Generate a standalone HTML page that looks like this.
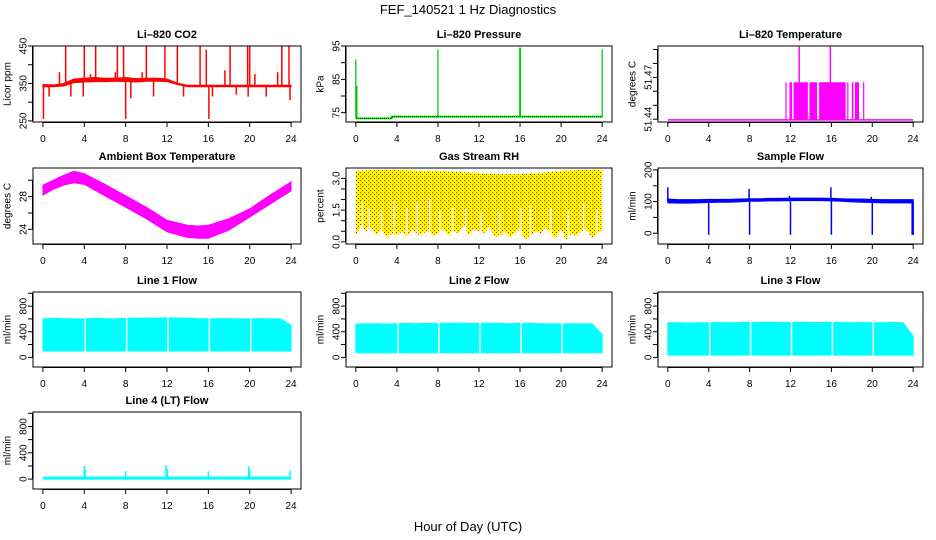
<!DOCTYPE html>
<html><head><meta charset="utf-8"><style>
html,body{margin:0;padding:0;background:#fff;}
svg{display:block;font-family:"Liberation Sans",Arial,sans-serif;}
</style></head><body>
<svg id="chart" width="936" height="540" viewBox="0 0 936 540" xmlns="http://www.w3.org/2000/svg">
<defs>
<pattern id="reddots" width="4" height="4" patternUnits="userSpaceOnUse"><rect x="0" y="0" width="1" height="1" fill="#ff0000"/><rect x="2" y="2" width="1" height="1" fill="#ff0000"/></pattern>
</defs>
<rect width="936" height="540" fill="#fff"/>
<text x="468" y="14" text-anchor="middle" font-size="13">FEF_140521  1 Hz Diagnostics</text>
<text x="468" y="531" text-anchor="middle" font-size="13">Hour of Day (UTC)</text>
</svg>
<script>
// ---- data ----
const xTicks = [0,4,8,12,16,20,24];
const hours = [0,1,2,3,4,5,6,7,8,9,10,11,12,13,14,15,16,17,18,19,20,21,22,23,24];
const co2Lo = [341,341,343,352,354,355,355,356,355,354,356,356,355,347,341,341,341,341,341,341,341,341,341,341,341];
const co2Hi = [347,346,350,362,364,366,364,364,366,363,364,364,362,351,345,345,345,345,345,345,345,345,345,345,345];
const co2SpikeHours = [2.2,4.0,5.1,7.2,7.8,10.0,11.8,13.0,15.2,15.8,18.1,19.8,20.0,23.1,23.8,1.6,4.6,7.0,9.6,17.6,20.5,22.7,0.05,8.0,16.05,0.6,2.7,3.9,8.5,10.7,13.6,16.4,18.7,19.85,21.6,23.9];
const co2SpikeVals = [450,450,450,450,450,450,450,450,450,440,450,450,450,450,450,380,375,380,380,385,375,380,255,255,255,315,315,315,310,315,315,315,320,315,315,305];
const presHours = [0,3.5,3.5,24];
const presVals = [73.3,73.3,73.8,73.8];
const presSpikeHours = [0.0,0.1,8.0,16.0,24.0];
const presSpikeVals = [91,83,94,94.5,94];
const tempBase = 51.4395;
const tempBurstStart = [11.5,11.9,12.3,13.85,14.8,17.55,18.0,18.3,19.1];
const tempBurstEnd = [11.55,12.15,13.7,14.6,17.4,17.65,18.15,18.7,19.15];
const tempBurstVal = 51.4665;
const tempSpikeHours = [12.85,15.9];
const tempSpikeVals = [51.492,51.492];
const ambHours = [0,1,2,3,4,6,8,10,12,14,15,16,18,20,22,24];
const ambHi = [29.4,30.0,30.6,31.1,30.8,29.5,28.1,26.7,25.1,24.5,24.4,24.5,25.3,26.5,28.2,29.8];
const ambLo = [28.2,28.9,29.4,29.7,29.5,28.1,26.7,25.3,23.7,23.0,22.9,22.9,23.9,25.5,27.1,28.7];
const rhHiHours = [0,2,4,6,8,10,12,14,16,18,20,22,24];
const rhHi = [3.35,3.4,3.4,3.35,3.35,3.3,3.25,3.2,3.2,3.25,3.35,3.4,3.4];
const rhLo = [0.3,0.8,0.5,0.7,0.3,0.6,0.2,0.4,0.3,0.5,0.2,0.6,0.3,0.4,0.5,0.3,0.4,0.6,0.3,0.5,0.4,0.8,0.3,0.6,0.5,0.4,0.7,0.3,0.2,0.5,0.2,0.4,0.6,0.1,0.3,0.5,0.4,0.7,0.3,0.2,0.6,0.1,0.4,0.3,0.5,0.6,0.2,0.4,0.5];
const rhGapHours = [0.6,1.3,2.5,3.7,5.0,6.0,7.2,8.2,9.4,10.7,12.2,14.0,16.1,17.0,19.0,20.7,22.2,23.5];
const rhGapVals = [1.9,1.6,1.5,1.9,1.6,1.9,2.0,1.5,1.6,1.6,1.4,1.5,1.6,1.7,1.6,1.5,1.8,1.5];
const sfLo = [96,95,95,96,97,98,98,99,101,101,102,102,103,103,103,103,102,101,99,98,97,96,96,96,96];
const sfHi = [108,106,106,106,107,107,107,108,109,109,110,110,111,111,111,111,110,109,108,108,107,106,106,106,106];
const sfSpikeHours = [0.0,4.0,7.95,8.0,11.9,12.0,15.95,16.0,19.9,20.0,23.9,24.0];
const sfSpikeVals = [145,-5,140,-5,118,-5,145,-5,115,-5,-5,-5];
const l1Lo = 100, l1Hi = [600,610,605,600,600,610,605,600,610,610,615,610,620,615,610,605,600,605,605,600,600,605,600,600,500];
const l2Lo = 72,  l2Hi = [520,525,525,520,525,530,525,530,530,535,535,530,530,535,530,525,530,530,525,525,520,525,525,520,360];
const l3Lo = 36,  l3Hi = [540,540,535,540,540,545,540,545,550,545,550,545,545,550,545,545,550,545,540,545,540,540,545,540,330];
const lineGapHours = [4,8,12,16,20];
const l4Base = 15;
const l4SpikeHours = [4.0,4.1,8.0,11.9,12.05,16.0,19.9,20.0,23.9];
const l4SpikeVals = [200,140,120,215,160,120,195,145,130];

// ---- layout ----
const NS = "http://www.w3.org/2000/svg";
const svg = document.getElementById('chart');
const colL = [33,346,658], colR = [301,612,923];
const rowT = [46,168,292,412], rowB = [122,244,367,489];

function mk(tag, attrs, parent) {
  const e = document.createElementNS(NS, tag);
  for (const k in attrs) e.setAttribute(k, attrs[k]);
  (parent || svg).appendChild(e);
  return e;
}

function panel(cfg) {
  const L = colL[cfg.c], R = colR[cfg.c], T = rowT[cfg.r], B = rowB[cfg.r];
  const g = mk('g', {});
  
  
  const xmin = -0.96, xmax = 24.96;
  const sx = h => L + (h - xmin) / (xmax - xmin) * (R - L);
  const sy = v => B - (v - cfg.ymin) / (cfg.ymax - cfg.ymin) * (B - T);
  const clipId = 'clip-' + cfg.name;
  const cp = mk('clipPath', {id: clipId}, g);
  mk('rect', {x: L, y: T, width: R - L, height: B - T}, cp);
  const dg = mk('g', {'clip-path': 'url(#' + clipId + ')'}, g);
  
  
  cfg.draw(dg, sx, sy);
  const box = mk('rect', {x: L, y: T, width: R - L, height: B - T, fill: 'none', stroke: '#000', 'stroke-width': 1}, g);
  
  
  const tt = mk('text', {x: (L + R) / 2, y: T - 8, 'text-anchor': 'middle', 'font-size': 11, 'font-weight': 'bold'}, g);
  
  
  tt.textContent = cfg.title;
  const xa = mk('g', {}, g);
  
  
  mk('line', {x1: sx(0), x2: sx(24), y1: B + 0.5, y2: B + 0.5, stroke: '#000'}, xa);
  xTicks.forEach(t => {
    mk('line', {x1: sx(t), x2: sx(t), y1: B, y2: B + 5, stroke: '#000'}, xa);
    const lb = mk('text', {x: sx(t), y: B + 20, 'text-anchor': 'middle', 'font-size': 10}, xa);
    
    
    lb.textContent = t;
  });
  const ya = mk('g', {}, g);
  
  
  mk('line', {x1: L - 0.5, x2: L - 0.5, y1: sy(cfg.yticks[0]), y2: sy(cfg.yticks[cfg.yticks.length - 1]), stroke: '#000'}, ya);
  cfg.yticks.forEach((t, i) => {
    mk('line', {x1: L - 5, x2: L, y1: sy(t), y2: sy(t), stroke: '#000'}, ya);
    if (cfg.ylabels[i] !== '') {
      const yy = sy(t), xx = L - 9;
      const lb = mk('text', {x: xx, y: yy, 'text-anchor': 'middle', 'font-size': 10, 'dominant-baseline': 'central', transform: 'rotate(-90 ' + xx + ' ' + yy + ')'}, ya);
      
      
      lb.textContent = cfg.ylabels[i];
    }
  });
  const yt = (T + B) / 2, xt = L - 25;
  const yl = mk('text', {x: xt, y: yt, 'text-anchor': 'middle', 'font-size': 10, 'dominant-baseline': 'central', transform: 'rotate(-90 ' + xt + ' ' + yt + ')'}, g);
  
  
  yl.textContent = cfg.ylab;
}

function band(g, sx, sy, hs, lo, hi, color, name) {
  let pts = [];
  hs.forEach((h, i) => pts.push(sx(h) + ',' + sy(Array.isArray(hi) ? hi[i] : hi)));
  for (let i = hs.length - 1; i >= 0; i--) pts.push(sx(hs[i]) + ',' + sy(Array.isArray(lo) ? lo[i] : lo));
  const p = mk('polygon', {points: pts.join(' '), fill: color, stroke: color, 'stroke-width': 1}, g);
  
  
  return p;
}
function vline(g, x, y1, y2, color, w, name) {
  const l = mk('line', {x1: x, x2: x, y1: y1, y2: y2, stroke: color, 'stroke-width': w}, g);
  
  
  return l;
}

const flowTicks = [0,200,400,600,800,1000], flowLabels = ['0','','400','','800',''];
function flowPanel(name, title, r, c, lo, hi) {
  panel({name, title, r, c, ylab: 'ml/min', ymin: -150, ymax: 1020, yticks: flowTicks, ylabels: flowLabels,
    draw: (g, sx, sy) => {
      band(g, sx, sy, hours, lo, hi, '#00ffff', name + '-band');
      lineGapHours.forEach(h => vline(g, sx(h) + 1, sy(lo) + 1, sy(700), '#fff', 1.5, name + '-gap'));
    }});
}

panel({name: 'li820-co2', title: 'Li\u2013820 CO2', r: 0, c: 0, ylab: 'Licor ppm', ymin: 247, ymax: 450,
  yticks: [250,300,350,400,450], ylabels: ['250','','350','','450'],
  draw: (g, sx, sy) => {
    band(g, sx, sy, hours, co2Lo, co2Hi, '#ff0000', 'co2-band');
    co2SpikeHours.forEach((h, i) => {
      const i0 = Math.min(24, Math.max(0, Math.round(h)));
      const base = (co2Lo[i0] + co2Hi[i0]) / 2;
      vline(g, sx(h), sy(base), sy(co2SpikeVals[i]), '#ff0000', 1.5, 'co2-spike');
    });
  }});

panel({name: 'li820-pressure', title: 'Li\u2013820 Pressure', r: 0, c: 1, ylab: 'kPa', ymin: 72.2, ymax: 95,
  yticks: [75,80,85,90,95], ylabels: ['75','','85','','95'],
  draw: (g, sx, sy) => {
    const pts = presHours.map((h, i) => sx(h) + ',' + sy(presVals[i])).join(' ');
    const pl = mk('polyline', {points: pts, fill: 'none', stroke: '#00ff00', 'stroke-width': 2}, g);
    
    
    const pd = mk('polyline', {points: pts, fill: 'none', stroke: '#000', 'stroke-width': 1, 'stroke-dasharray': '1,1'}, g);
    
    
    presSpikeHours.forEach((h, i) => {
      vline(g, sx(h), sy(73.5), sy(presSpikeVals[i]), '#00ff00', i === 3 ? 2 : 1.2, 'pressure-spike');
      vline(g, sx(h), sy(73.5), sy(presSpikeVals[i]), '#000', 0.6, 'pressure-spike-dotted').setAttribute('stroke-dasharray', '1,1');
    });
  }});

panel({name: 'li820-temperature', title: 'Li\u2013820 Temperature', r: 0, c: 2, ylab: 'degrees C', ymin: 51.438, ymax: 51.4925,
  yticks: [51.44,51.45,51.46,51.47,51.48,51.49], ylabels: ['51.44','','','51.47','',''],
  draw: (g, sx, sy) => {
    const bl = mk('line', {x1: sx(0), x2: sx(24), y1: sy(tempBase), y2: sy(tempBase), stroke: '#ff00ff', 'stroke-width': 1.5}, g);
    
    
    tempBurstStart.forEach((s, i) => {
      const r = mk('rect', {x: sx(s), y: sy(tempBurstVal), width: Math.max(1.2, sx(tempBurstEnd[i]) - sx(s)), height: sy(tempBase) - sy(tempBurstVal), fill: '#ff00ff'}, g);
      
      
    });
    tempSpikeHours.forEach((h, i) => vline(g, sx(h), sy(tempBurstVal), sy(tempSpikeVals[i]), '#ff00ff', 1.5, 'temperature-spike'));
  }});

panel({name: 'ambient-box-temperature', title: 'Ambient Box Temperature', r: 1, c: 0, ylab: 'degrees C', ymin: 22.2, ymax: 31.5,
  yticks: [24,26,28,30], ylabels: ['24','','28',''],
  draw: (g, sx, sy) => band(g, sx, sy, ambHours, ambLo, ambHi, '#ff00ff', 'ambient-band')});

panel({name: 'gas-stream-rh', title: 'Gas Stream RH', r: 1, c: 1, ylab: 'percent', ymin: -0.1, ymax: 3.49,
  yticks: [0,0.5,1,1.5,2,2.5,3], ylabels: ['0.0','','','1.5','','','3.0'],
  draw: (g, sx, sy) => {
    const loH = rhLo.map((v, i) => i * 0.5);
    let pts = [];
    rhHiHours.forEach((h, i) => pts.push(sx(h) + ',' + sy(rhHi[i])));
    for (let i = loH.length - 1; i >= 0; i--) pts.push(sx(loH[i]) + ',' + sy(rhLo[i]));
    const p1 = mk('polygon', {points: pts.join(' '), fill: '#ffff00'}, g);
    
    
    const p2 = mk('polygon', {points: pts.join(' '), fill: 'url(#reddots)'}, g);
    
    
    rhGapHours.forEach((h, i) => vline(g, sx(h), sy(-0.1), sy(rhGapVals[i]), '#fff', 1.5, 'rh-gap'));
  }});

panel({name: 'sample-flow', title: 'Sample Flow', r: 1, c: 2, ylab: 'ml/min', ymin: -34, ymax: 206,
  yticks: [0,50,100,150,200], ylabels: ['0','','100','','200'],
  draw: (g, sx, sy) => {
    band(g, sx, sy, hours, sfLo, sfHi, '#0000ff', 'sample-flow-band');
    sfSpikeHours.forEach((h, i) => vline(g, sx(h), sy(100), sy(sfSpikeVals[i]), '#0000ff', 1.5, 'sample-flow-spike'));
  }});

flowPanel('line-1-flow', 'Line 1 Flow', 2, 0, l1Lo, l1Hi);
flowPanel('line-2-flow', 'Line 2 Flow', 2, 1, l2Lo, l2Hi);
flowPanel('line-3-flow', 'Line 3 Flow', 2, 2, l3Lo, l3Hi);

panel({name: 'line-4-lt-flow', title: 'Line 4 (LT) Flow', r: 3, c: 0, ylab: 'ml/min', ymin: -150, ymax: 1020,
  yticks: flowTicks, ylabels: flowLabels,
  draw: (g, sx, sy) => {
    const r = mk('rect', {x: sx(0), y: sy(l4Base) - 1.5, width: sx(24) - sx(0), height: 3, fill: '#00ffff'}, g);
    
    
    l4SpikeHours.forEach((h, i) => vline(g, sx(h), sy(l4Base), sy(l4SpikeVals[i]), '#00ffff', 1.5, 'line-4-spike'));
  }});
</script>
</body></html>
